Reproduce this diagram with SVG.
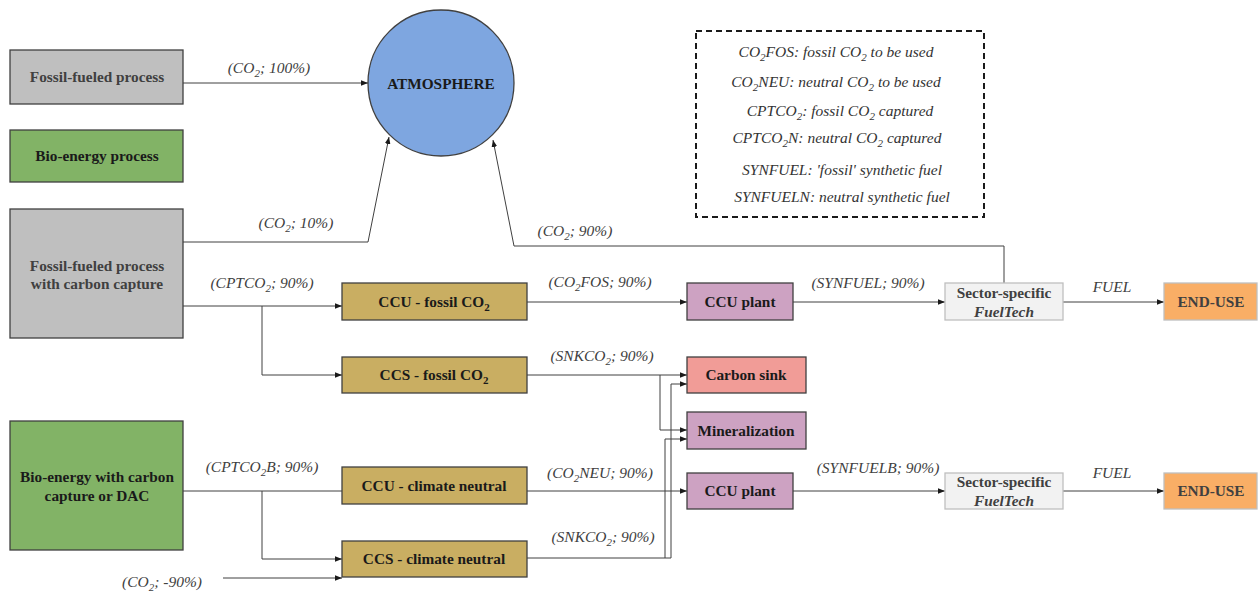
<svg xmlns="http://www.w3.org/2000/svg" width="1258" height="592" viewBox="0 0 1258 592">
<style>
.bx{stroke:#404040;stroke-width:1.3}
.lt{stroke:#bfbfbf;stroke-width:1.3}
.t{font-family:"Liberation Serif",serif;font-size:15.3px;font-weight:bold;text-anchor:middle;fill:#1a1a1a}
.tg{fill:#404040}
.l{font-family:"Liberation Serif",serif;font-size:15.5px;font-style:italic;text-anchor:middle;fill:#404040}
.lg{font-family:"Liberation Serif",serif;font-size:15.5px;font-style:italic;text-anchor:middle;fill:#333}
.s{font-size:11px}
.c{fill:none;stroke:#404040;stroke-width:1}
</style>
<defs>
<marker id="a" viewBox="0 0 8 8" refX="8" refY="4" markerWidth="7" markerHeight="7" markerUnits="userSpaceOnUse" orient="auto">
<path d="M0,0.8 L8,4 L0,7.2 Z" fill="#1a1a1a"/>
</marker>
</defs>
<rect width="1258" height="592" fill="#fff"/>

<g id="connectors">
<path class="c" d="M183,83 H368" marker-end="url(#a)"/>
<path class="c" d="M183,242 H368 L389,137" marker-end="url(#a)"/>
<path class="c" d="M1004,283 V246 H514 L493,140" marker-end="url(#a)"/>
<path class="c" d="M183,306 H342" marker-end="url(#a)"/>
<path class="c" d="M262,306 V375 H342" marker-end="url(#a)"/>
<path class="c" d="M527,302 H687" marker-end="url(#a)"/>
<path class="c" d="M793,302 H945" marker-end="url(#a)"/>
<path class="c" d="M1063,302 H1164" marker-end="url(#a)"/>
<path class="c" d="M527,375 H687" marker-end="url(#a)"/>
<path class="c" d="M660,375 V430 H687" marker-end="url(#a)"/>
<path class="c" d="M527,558 H671 V384 H687" marker-end="url(#a)"/>
<path class="c" d="M665,558 V439 H687" marker-end="url(#a)"/>
<path class="c" d="M183,491 H342"/>
<path class="c" d="M262,491 V559 H342" marker-end="url(#a)"/>
<path class="c" d="M223,578 H342" marker-end="url(#a)"/>
<path class="c" d="M527,491 H687" marker-end="url(#a)"/>
<path class="c" d="M793,491 H945" marker-end="url(#a)"/>
<path class="c" d="M1063,491 H1164" marker-end="url(#a)"/>
</g>

<g id="labels">
<text class="l" x="269" y="73">(CO<tspan class="s" dy="4">2</tspan><tspan dy="-4">; 100%)</tspan></text>
<text class="l" x="296" y="228">(CO<tspan class="s" dy="4">2</tspan><tspan dy="-4">; 10%)</tspan></text>
<text class="l" x="575" y="236">(CO<tspan class="s" dy="4">2</tspan><tspan dy="-4">; 90%)</tspan></text>
<text class="l" x="262" y="288">(CPTCO<tspan class="s" dy="4">2</tspan><tspan dy="-4">; 90%)</tspan></text>
<text class="l" x="600" y="287">(CO<tspan class="s" dy="4">2</tspan><tspan dy="-4">FOS; 90%)</tspan></text>
<text class="l" x="868" y="288">(SYNFUEL; 90%)</text>
<text class="l" x="1112" y="292">FUEL</text>
<text class="l" x="602" y="361">(SNKCO<tspan class="s" dy="4">2</tspan><tspan dy="-4">; 90%)</tspan></text>
<text class="l" x="262" y="472">(CPTCO<tspan class="s" dy="4">2</tspan><tspan dy="-4">B; 90%)</tspan></text>
<text class="l" x="600" y="478">(CO<tspan class="s" dy="4">2</tspan><tspan dy="-4">NEU; 90%)</tspan></text>
<text class="l" x="878" y="473">(SYNFUELB; 90%)</text>
<text class="l" x="1112" y="478">FUEL</text>
<text class="l" x="603" y="542">(SNKCO<tspan class="s" dy="4">2</tspan><tspan dy="-4">; 90%)</tspan></text>
<text class="l" x="162" y="587">(CO<tspan class="s" dy="4">2</tspan><tspan dy="-4">; -90%)</tspan></text>
</g>

<g id="legend">
<rect x="696" y="31" width="288" height="186" fill="none" stroke="#1a1a1a" stroke-width="2" stroke-dasharray="6,4"/>
<text class="lg" x="836" y="57">CO<tspan class="s" dy="4">2</tspan><tspan dy="-4">FOS: fossil CO</tspan><tspan class="s" dy="4">2</tspan><tspan dy="-4"> to be used</tspan></text>
<text class="lg" x="836" y="87">CO<tspan class="s" dy="4">2</tspan><tspan dy="-4">NEU: neutral CO</tspan><tspan class="s" dy="4">2</tspan><tspan dy="-4"> to be used</tspan></text>
<text class="lg" x="840" y="116">CPTCO<tspan class="s" dy="4">2</tspan><tspan dy="-4">: fossil CO</tspan><tspan class="s" dy="4">2</tspan><tspan dy="-4"> captured</tspan></text>
<text class="lg" x="837" y="143">CPTCO<tspan class="s" dy="4">2</tspan><tspan dy="-4">N: neutral CO</tspan><tspan class="s" dy="4">2</tspan><tspan dy="-4"> captured</tspan></text>
<text class="lg" x="842" y="175">SYNFUEL: 'fossil' synthetic fuel</text>
<text class="lg" x="842" y="202">SYNFUELN: neutral synthetic fuel</text>
</g>

<g id="fossil-process">
<rect class="bx" x="10" y="50" width="173" height="54" fill="#bfbfbf"/>
<text class="t tg" x="97" y="82">Fossil-fueled process</text>
</g>
<g id="bio-process">
<rect class="bx" x="10" y="130" width="173" height="52" fill="#82b366"/>
<text class="t" x="97" y="161">Bio-energy process</text>
</g>
<g id="fossil-cc">
<rect class="bx" x="10" y="209" width="173" height="129" fill="#bfbfbf"/>
<text class="t tg" x="97" y="271">Fossil-fueled process</text>
<text class="t tg" x="97" y="289">with carbon capture</text>
</g>
<g id="bio-cc">
<rect class="bx" x="10" y="421" width="173" height="129" fill="#82b366"/>
<text class="t" x="97" y="482">Bio-energy with carbon</text>
<text class="t" x="97" y="501">capture or DAC</text>
</g>
<g id="atmosphere">
<circle cx="441" cy="83" r="73" fill="#7ea6e0" stroke="#404040" stroke-width="1.3"/>
<text class="t" x="441" y="89" font-size="15">ATMOSPHERE</text>
</g>
<g id="ccu-fossil">
<rect class="bx" x="342" y="283" width="185" height="37" fill="#c9ae62"/>
<text class="t" x="434" y="307">CCU - fossil CO<tspan class="s" dy="4">2</tspan></text>
</g>
<g id="ccs-fossil">
<rect class="bx" x="342" y="357" width="185" height="36" fill="#c9ae62"/>
<text class="t" x="434" y="380">CCS - fossil CO<tspan class="s" dy="4">2</tspan></text>
</g>
<g id="ccu-neutral">
<rect class="bx" x="342" y="467" width="185" height="37" fill="#c9ae62"/>
<text class="t" x="434" y="491">CCU - climate neutral</text>
</g>
<g id="ccs-neutral">
<rect class="bx" x="342" y="541" width="185" height="36" fill="#c9ae62"/>
<text class="t" x="434" y="564">CCS - climate neutral</text>
</g>
<g id="ccu-plant-1">
<rect class="bx" x="687" y="283" width="106" height="37" fill="#cda2c2"/>
<text class="t" x="740" y="307">CCU plant</text>
</g>
<g id="carbon-sink">
<rect class="bx" x="687" y="357" width="119" height="36" fill="#f19c97"/>
<text class="t" x="746" y="380">Carbon sink</text>
</g>
<g id="mineralization">
<rect class="bx" x="687" y="412" width="119" height="37" fill="#cda2c2"/>
<text class="t" x="746" y="436">Mineralization</text>
</g>
<g id="ccu-plant-2">
<rect class="bx" x="687" y="473" width="106" height="36" fill="#cda2c2"/>
<text class="t" x="740" y="496">CCU plant</text>
</g>
<g id="fueltech-1">
<rect class="lt" x="945" y="283" width="118" height="37" fill="#f2f2f2"/>
<text class="t tg" x="1004" y="298">Sector-specific</text>
<text class="t tg" x="1004" y="317" font-style="italic">FuelTech</text>
</g>
<g id="fueltech-2">
<rect class="lt" x="945" y="473" width="118" height="36" fill="#f2f2f2"/>
<text class="t tg" x="1004" y="487">Sector-specific</text>
<text class="t tg" x="1004" y="506" font-style="italic">FuelTech</text>
</g>
<g id="end-use-1">
<rect class="lt" x="1164" y="283" width="93" height="37" fill="#f9ae66"/>
<text class="t tg" x="1211" y="307">END-USE</text>
</g>
<g id="end-use-2">
<rect class="lt" x="1164" y="473" width="93" height="36" fill="#f9ae66"/>
<text class="t tg" x="1211" y="496">END-USE</text>
</g>
</svg>
